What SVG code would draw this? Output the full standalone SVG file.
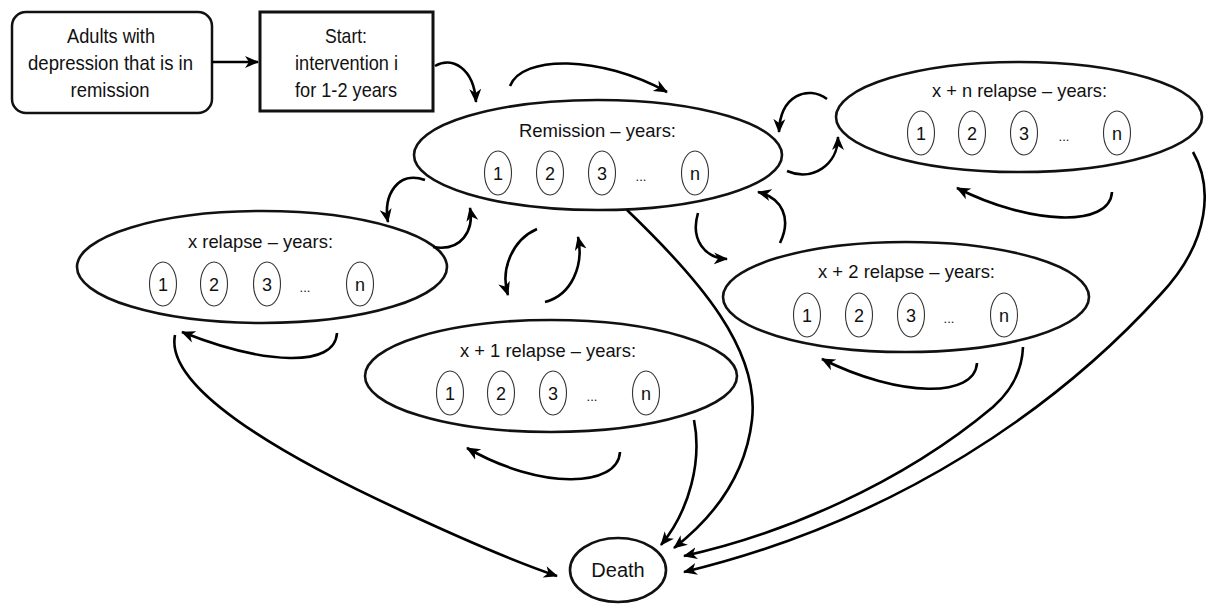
<svg xmlns="http://www.w3.org/2000/svg" width="1206" height="604" viewBox="0 0 1206 604">
  <style>
    .box { fill: #fff; stroke: #111; stroke-width: 2.5; }
    .state { fill: #fff; stroke: #111; stroke-width: 2.6; }
    .year { fill: #fff; stroke: #333; stroke-width: 1.1; }
    text { font-family: "Liberation Sans", Arial, sans-serif; fill: #111; text-anchor: middle; }
    .lbl { font-size: 21px; }
    .ttl { font-size: 19px; }
    .num { font-size: 18px; }
    .dots { font-size: 13px; }
    .arrow { fill: none; stroke: #000; stroke-width: 2.6; marker-end: url(#head); }
  </style>
  <defs>
    <marker id="head" markerUnits="userSpaceOnUse" markerWidth="14" markerHeight="14" viewBox="0 0 14 14" refX="13" refY="7" orient="auto">
      <path d="M0,1 L14,7 L0,13 L4,7 z" fill="#000"/>
    </marker>
  </defs>

  <rect width="1206" height="604" fill="#fff"/>

  <!-- entry population -->
  <g id="population">
    <rect class="box" x="12" y="12" width="200" height="101" rx="14"/>
    <text class="lbl" x="111" y="43" textLength="88" lengthAdjust="spacingAndGlyphs">Adults with</text>
    <text class="lbl" x="110.5" y="70" textLength="165" lengthAdjust="spacingAndGlyphs">depression that is in</text>
    <text class="lbl" x="110" y="97" textLength="79" lengthAdjust="spacingAndGlyphs">remission</text>
  </g>

  <!-- intervention start -->
  <g id="start">
    <rect class="box" x="260" y="12" width="173" height="99" style="stroke-width:3"/>
    <text class="lbl" x="346" y="43" textLength="42" lengthAdjust="spacingAndGlyphs">Start:</text>
    <text class="lbl" x="346.5" y="70" textLength="103" lengthAdjust="spacingAndGlyphs">intervention i</text>
    <text class="lbl" x="346" y="97" textLength="102" lengthAdjust="spacingAndGlyphs">for 1-2 years</text>
  </g>

  <!-- remission state -->
  <g id="remission">
    <ellipse class="state" cx="598" cy="155" rx="184" ry="55"/>
    <text class="ttl" x="597.5" y="137" textLength="157" lengthAdjust="spacingAndGlyphs">Remission – years:</text>
    <ellipse class="year" cx="498" cy="173" rx="13.5" ry="22"/><text class="num" x="498" y="180">1</text>
    <ellipse class="year" cx="550" cy="173" rx="13.5" ry="22"/><text class="num" x="550" y="180">2</text>
    <ellipse class="year" cx="602" cy="173" rx="13.5" ry="22"/><text class="num" x="602" y="180">3</text>
    <text class="dots" x="641" y="181">...</text>
    <ellipse class="year" cx="695" cy="173" rx="13.5" ry="22"/><text class="num" x="695" y="180">n</text>
  </g>

  <!-- x + n relapse state -->
  <g id="relapse-xn">
    <ellipse class="state" cx="1019" cy="117" rx="183" ry="55"/>
    <text class="ttl" x="1019.5" y="97" textLength="175" lengthAdjust="spacingAndGlyphs">x + n relapse – years:</text>
    <ellipse class="year" cx="921" cy="133" rx="13.5" ry="22"/><text class="num" x="921" y="140">1</text>
    <ellipse class="year" cx="972" cy="133" rx="13.5" ry="22"/><text class="num" x="972" y="140">2</text>
    <ellipse class="year" cx="1024" cy="133" rx="13.5" ry="22"/><text class="num" x="1024" y="140">3</text>
    <text class="dots" x="1064" y="141">...</text>
    <ellipse class="year" cx="1117" cy="133" rx="13.5" ry="22"/><text class="num" x="1117" y="140">n</text>
  </g>

  <!-- x relapse state -->
  <g id="relapse-x">
    <ellipse class="state" cx="262" cy="267" rx="185" ry="56"/>
    <text class="ttl" x="260.5" y="248" textLength="145" lengthAdjust="spacingAndGlyphs">x relapse – years:</text>
    <ellipse class="year" cx="163" cy="284" rx="13.5" ry="22"/><text class="num" x="163" y="291">1</text>
    <ellipse class="year" cx="214" cy="284" rx="13.5" ry="22"/><text class="num" x="214" y="291">2</text>
    <ellipse class="year" cx="267" cy="284" rx="13.5" ry="22"/><text class="num" x="267" y="291">3</text>
    <text class="dots" x="305" y="292">...</text>
    <ellipse class="year" cx="360" cy="284" rx="13.5" ry="22"/><text class="num" x="360" y="291">n</text>
  </g>

  <!-- x + 1 relapse state -->
  <g id="relapse-x1">
    <ellipse class="state" cx="551" cy="376" rx="186" ry="56"/>
    <text class="ttl" x="548" y="357" textLength="176" lengthAdjust="spacingAndGlyphs">x + 1 relapse – years:</text>
    <ellipse class="year" cx="450" cy="393" rx="13.5" ry="22"/><text class="num" x="450" y="400">1</text>
    <ellipse class="year" cx="501" cy="393" rx="13.5" ry="22"/><text class="num" x="501" y="400">2</text>
    <ellipse class="year" cx="553" cy="393" rx="13.5" ry="22"/><text class="num" x="553" y="400">3</text>
    <text class="dots" x="592" y="401">...</text>
    <ellipse class="year" cx="646" cy="393" rx="13.5" ry="22"/><text class="num" x="646" y="400">n</text>
  </g>

  <!-- x + 2 relapse state -->
  <g id="relapse-x2">
    <ellipse class="state" cx="906" cy="297" rx="183" ry="55"/>
    <text class="ttl" x="906.5" y="278" textLength="177" lengthAdjust="spacingAndGlyphs">x + 2 relapse – years:</text>
    <ellipse class="year" cx="807" cy="315" rx="13.5" ry="22"/><text class="num" x="807" y="322">1</text>
    <ellipse class="year" cx="859" cy="315" rx="13.5" ry="22"/><text class="num" x="859" y="322">2</text>
    <ellipse class="year" cx="911" cy="315" rx="13.5" ry="22"/><text class="num" x="911" y="322">3</text>
    <text class="dots" x="949" y="323">...</text>
    <ellipse class="year" cx="1004" cy="315" rx="13.5" ry="22"/><text class="num" x="1004" y="322">n</text>
  </g>

  <!-- absorbing state -->
  <g id="death">
    <ellipse class="state" cx="618" cy="570" rx="48" ry="32"/>
    <text class="lbl" x="618" y="577" style="font-size:20px">Death</text>
  </g>

  <!-- transitions -->
  <g id="connectors">
    <path class="arrow" d="M212,62 L258,62"/>
    <path class="arrow" d="M435,66 C452,56 474,68 476,102"/>
    <path class="arrow" d="M510,86 C522,55 600,55 667,92"/>
    <path class="arrow" d="M827,99 C808,85 780,95 779,132"/>
    <path class="arrow" d="M787,171 C812,182 838,165 838,137"/>
    <path class="arrow" d="M1112,192 C1110,228 1030,225 957,188"/>
    <path class="arrow" d="M425,180 C398,170 383,195 388,222"/>
    <path class="arrow" d="M433,247 C462,252 474,230 470,208"/>
    <path class="arrow" d="M537,229 C512,240 500,270 508,295"/>
    <path class="arrow" d="M545,302 C572,295 584,265 578,237"/>
    <path class="arrow" d="M698,213 C690,240 705,258 727,259"/>
    <path class="arrow" d="M780,243 C792,218 782,198 758,192"/>
    <path class="arrow" d="M337,333 C335,368 265,365 182,332"/>
    <path class="arrow" d="M620,452 C618,488 540,490 467,448"/>
    <path class="arrow" d="M977,363 C975,398 900,398 822,359"/>
    <path class="arrow" d="M175,335 C165,385 270,450 400,510 C460,538 510,560 557,576"/>
    <path class="arrow" d="M627,210 C700,280 760,350 752,420 C745,480 710,520 674,548"/>
    <path class="arrow" d="M694,420 C702,460 690,510 661,545"/>
    <path class="arrow" d="M1023,347 C1022,372 1010,392 993,407 C900,485 780,535 684,556"/>
    <path class="arrow" d="M1193,152 C1212,185 1212,240 1160,295 C1060,405 900,520 684,572"/>
  </g>
</svg>
